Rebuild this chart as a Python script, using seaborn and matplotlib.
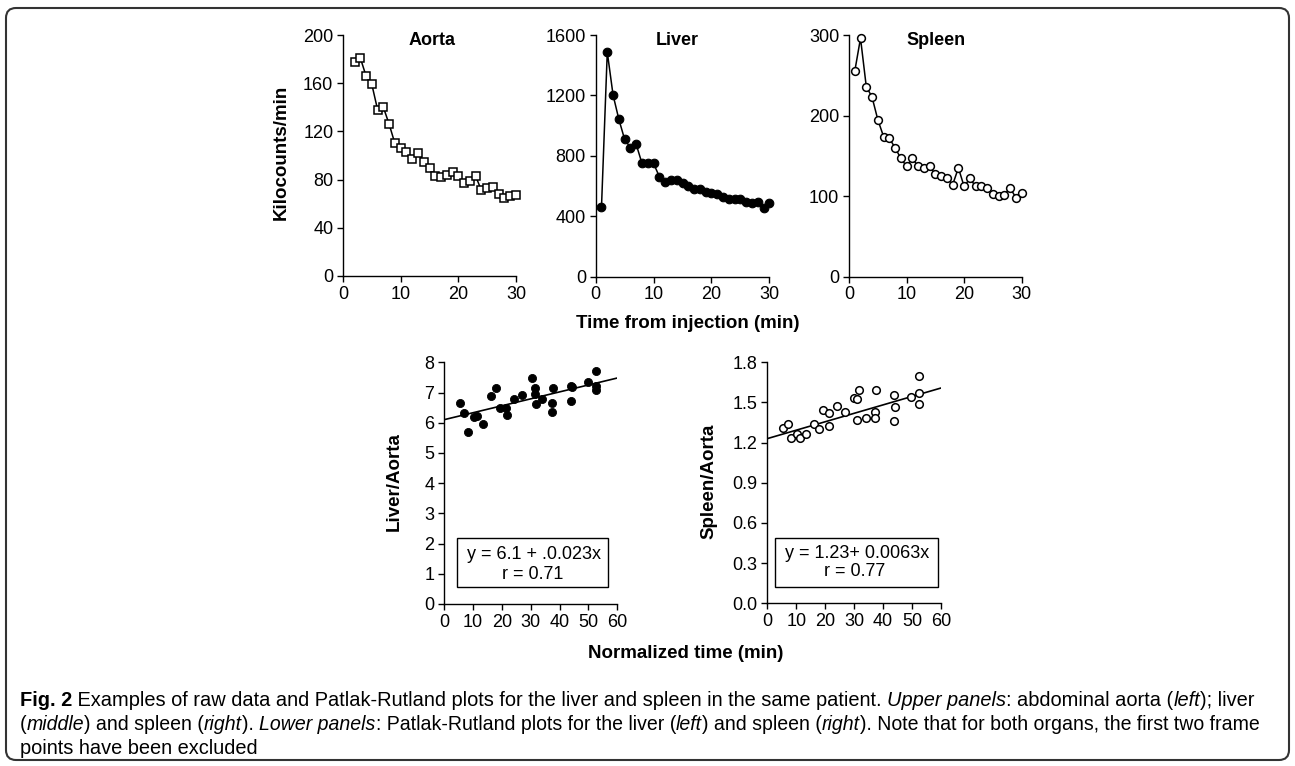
import matplotlib
matplotlib.use("Agg")
import matplotlib.pyplot as plt
import seaborn as sns
import pandas as pd
from matplotlib.patches import FancyBboxPatch, Rectangle
from matplotlib.transforms import IdentityTransform
from matplotlib.font_manager import FontProperties, findfont

# ---------------- data ----------------
aorta_time = list(range(2, 31))
aorta_kcpm = [178, 181, 166, 159, 138, 140, 126, 110, 106, 103, 97, 102, 95, 90, 83,
              82, 84, 86, 83, 77, 79, 83, 71, 73, 74, 68, 65, 66, 67]

liver_time = list(range(1, 31))
liver_kcpm = [460, 1487, 1203, 1042, 909, 854, 876, 750, 750, 750, 662, 625, 640, 640, 618,
              603, 578, 578, 563, 556, 547, 530, 514, 514, 512, 492, 486, 497, 457, 486]

spleen_time = list(range(1, 31))
spleen_kcpm = [255, 296, 236, 223, 195, 174, 172, 160, 147, 137, 147, 137, 135, 137, 127,
               125, 123, 114, 135, 112, 122, 112, 112, 110, 103, 100, 102, 110, 98, 104]

liver_norm_time = [5.5, 7.0, 8.2, 10.3, 11.3, 13.5, 16.3, 17.9, 19.4, 21.4, 21.7, 24.3, 26.9, 30.4,
                   31.5, 31.5, 31.9, 34.0, 37.8, 37.4, 37.4, 44.0, 44.0, 44.4, 49.7, 52.5, 52.5, 52.5]
liver_aorta = [6.66, 6.31, 5.68, 6.20, 6.23, 5.95, 6.87, 7.14, 6.48, 6.48, 6.26, 6.78, 6.92, 7.49,
               7.14, 6.94, 6.61, 6.78, 7.14, 6.66, 6.37, 7.23, 6.73, 7.17, 7.36, 7.71, 7.22, 7.07]

spleen_norm_time = [5.3, 7.0, 8.1, 10.2, 11.3, 13.4, 16.1, 17.8, 19.4, 21.4, 21.4, 24.2, 26.8, 29.9,
                    31.1, 31.7, 31.1, 34.0, 37.2, 37.2, 37.7, 43.6, 44.1, 43.6, 49.6, 52.4, 52.4, 52.4]
spleen_aorta = [1.307, 1.337, 1.232, 1.267, 1.232, 1.267, 1.337, 1.302, 1.444, 1.419, 1.327, 1.476,
                1.431, 1.536, 1.524, 1.593, 1.369, 1.382, 1.431, 1.382, 1.593, 1.556, 1.464, 1.362,
                1.543, 1.698, 1.568, 1.486]

liver_fit = (6.1, 0.023)      # intercept, slope
spleen_fit = (1.23, 0.0063)
fit_x = [0, 60]

liver_eq = ["y = 6.1 + .0.023x", "r = 0.71"]
spleen_eq = ["y = 1.23+ 0.0063x", "r = 0.77"]

aorta_yticks = [0, 40, 80, 120, 160, 200]
liver_yticks = [0, 400, 800, 1200, 1600]
spleen_yticks = [0, 100, 200, 300]
time_xticks = [0, 10, 20, 30]
norm_xticks = [0, 10, 20, 30, 40, 50, 60]
liver_ratio_yticks = [0, 1, 2, 3, 4, 5, 6, 7, 8]
spleen_ratio_yticks = [0.0, 0.3, 0.6, 0.9, 1.2, 1.5, 1.8]

caption_lines = [
    [("Fig. 2", "normal", "bold"),
     (" Examples of raw data and Patlak-Rutland plots for the liver and spleen in the same patient. ", "normal", "normal"),
     ("Upper panels", "italic", "normal"),
     (": abdominal aorta (", "normal", "normal"),
     ("left", "italic", "normal"),
     ("); liver", "normal", "normal")],
    [("(", "normal", "normal"),
     ("middle", "italic", "normal"),
     (") and spleen (", "normal", "normal"),
     ("right", "italic", "normal"),
     ("). ", "normal", "normal"),
     ("Lower panels", "italic", "normal"),
     (": Patlak-Rutland plots for the liver (", "normal", "normal"),
     ("left", "italic", "normal"),
     (") and spleen (", "normal", "normal"),
     ("right", "italic", "normal"),
     ("). Note that for both organs, the first two frame", "normal", "normal")],
    [("points have been excluded", "normal", "normal")],
]

# ---------------- style ----------------
sns.set_theme(style="ticks")
plt.rcParams["font.family"] = ["Liberation Sans", "DejaVu Sans"]
plt.rcParams["text.color"] = "black"
plt.rcParams["axes.labelcolor"] = "black"
plt.rcParams["xtick.color"] = "black"
plt.rcParams["ytick.color"] = "black"
plt.rcParams["axes.edgecolor"] = "black"

W, H = 1295, 766
fig = plt.figure(figsize=(W / 100, H / 100), dpi=100)
fig.patch.set_facecolor("white")


def px_axes(l, t, r, b):
    return fig.add_axes([l / W, 1 - b / H, (r - l) / W, (b - t) / H])


def style(ax, xticks, yticks, ylim, xlim, fmt=None):
    ax.set_xlim(xlim)
    ax.set_ylim(ylim)
    ax.set_xticks(xticks)
    ax.set_yticks(yticks)
    if fmt:
        ax.set_yticklabels([fmt.format(v) for v in yticks])
    sns.despine(ax=ax)
    for s in ("left", "bottom"):
        ax.spines[s].set_linewidth(1.0)
        ax.spines[s].set_color("black")
    ax.tick_params(direction="out", length=4, width=1.0, labelsize=13, pad=3, colors="black")
    ax.set_xlabel("")
    ax.set_ylabel("")
    ax.set_facecolor("none")


TS = 13
# ---- top panels ----
ax1 = px_axes(343, 35, 516, 276)
sns.lineplot(x=aorta_time, y=aorta_kcpm, ax=ax1, color="black", linewidth=1.1,
             marker="s", markersize=6, markerfacecolor="white", markeredgecolor="black",
             markeredgewidth=1.1, clip_on=False)
style(ax1, time_xticks, aorta_yticks, (0, 200), (0, 30))
ax1.text(0.514, 0.978, "Aorta", transform=ax1.transAxes, ha="center", va="center",
         fontsize=TS, fontweight="bold")

ax2 = px_axes(595.7, 35, 769.3, 276.7)
sns.lineplot(x=liver_time, y=liver_kcpm, ax=ax2, color="black", linewidth=1.1,
             marker="o", markersize=6.2, markerfacecolor="black", markeredgecolor="black",
             markeredgewidth=0.8, clip_on=False)
style(ax2, time_xticks, liver_yticks, (0, 1600), (0, 30))
ax2.text(0.467, 0.977, "Liver", transform=ax2.transAxes, ha="center", va="center",
         fontsize=TS, fontweight="bold")

ax3 = px_axes(849, 35, 1021.7, 276.7)
sns.lineplot(x=spleen_time, y=spleen_kcpm, ax=ax3, color="black", linewidth=1.1,
             marker="o", markersize=5.6, markerfacecolor="white", markeredgecolor="black",
             markeredgewidth=1.1, clip_on=False)
style(ax3, time_xticks, spleen_yticks, (0, 300), (0, 30))
ax3.text(0.506, 0.977, "Spleen", transform=ax3.transAxes, ha="center", va="center",
         fontsize=TS, fontweight="bold")

# ---- bottom panels ----
ax4 = px_axes(444, 362.3, 617.3, 604)
fit_df = pd.DataFrame({"x": fit_x,
                       "liver": [liver_fit[0] + liver_fit[1] * v for v in fit_x],
                       "spleen": [spleen_fit[0] + spleen_fit[1] * v for v in fit_x]})
sns.lineplot(data=fit_df, x="x", y="liver", ax=ax4, color="black", linewidth=1.2, zorder=2)
sns.scatterplot(x=liver_norm_time, y=liver_aorta, ax=ax4, color="black", edgecolor="black",
                s=34, linewidth=0.6, zorder=3, clip_on=False)
style(ax4, norm_xticks, liver_ratio_yticks, (0, 8), (0, 60))

ax5 = px_axes(767.3, 362.3, 941, 603.3)
sns.lineplot(data=fit_df, x="x", y="spleen", ax=ax5, color="black", linewidth=1.2, zorder=2)
sns.scatterplot(x=spleen_norm_time, y=spleen_aorta, ax=ax5, color="white", edgecolor="black",
                s=30, linewidth=1.1, zorder=3, clip_on=False)
style(ax5, norm_xticks, spleen_ratio_yticks, (0, 1.8), (0, 60), fmt="{:.1f}")


def eq_box(ax, box, lines, xs, ys):
    x0, y0, x1, y1 = box
    ax.add_patch(Rectangle((x0, y0), x1 - x0, y1 - y0, transform=ax.transAxes,
                           fill=True, facecolor="white", edgecolor="black", linewidth=1.0,
                           zorder=4, clip_on=False))
    for txt, xx, yy in zip(lines, xs, ys):
        ax.text(xx, yy, txt, transform=ax.transAxes, ha="center", va="center",
                fontsize=TS, zorder=5)


eq_box(ax4, (0.073, 0.0716, 0.948, 0.272), liver_eq, (0.519, 0.51), (0.203, 0.12))
eq_box(ax5, (0.044, 0.069, 0.981, 0.27), spleen_eq, (0.516, 0.50), (0.207, 0.131))

# ---- axis labels ----
LS = 13.5
fig.text(281.7 / W, 1 - 152 / H, "Kilocounts/min", rotation=90, ha="center", va="center",
         fontsize=LS, fontweight="bold")
fig.text(394 / W, 1 - 481.7 / H, "Liver/Aorta", rotation=90, ha="center", va="center",
         fontsize=LS, fontweight="bold")
fig.text(709 / W, 1 - 481.7 / H, "Spleen/Aorta", rotation=90, ha="center", va="center",
         fontsize=LS, fontweight="bold")
fig.text(687.5 / W, 1 - 324 / H, "Time from injection (min)", ha="center", va="center",
         fontsize=LS, fontweight="bold")
fig.text(686 / W, 1 - 653 / H, "Normalized time (min)", ha="center", va="center",
         fontsize=LS, fontweight="bold")

# ---- caption ----
try:
    findfont(FontProperties(family="Liberation Sans Narrow"), fallback_to_default=False)
    cap_family = ["Liberation Sans Narrow", "DejaVu Sans"]
except Exception:
    cap_family = ["Liberation Sans", "DejaVu Sans"]

renderer = fig.canvas.get_renderer()


def seg_width(txt, size, style_, weight):
    prop = FontProperties(family=cap_family, size=size, style=style_, weight=weight)
    a = renderer.get_text_width_height_descent("X" + txt + "X", prop, False)[0]
    b = renderer.get_text_width_height_descent("XX", prop, False)[0]
    return a - b


base = 10.0
targets = [1236.0, 1242.0]
sizes = []
for line, tw in zip(caption_lines[:2], targets):
    wl = sum(seg_width(t, base, s, w) for t, s, w in line)
    sizes.append(base * tw / wl)
sizes.append(sizes[0])

cap_x0 = 20
cap_ys = [700, 725, 749]
for line, yy, cs in zip(caption_lines, cap_ys, sizes):
    x = cap_x0
    for t, s, w in line:
        fig.text(x / W, 1 - yy / H, t, ha="left", va="center", fontsize=cs,
                 fontstyle=s, fontweight=w, family=cap_family)
        x += seg_width(t, cs, s, w)

# ---- border ----
border = FancyBboxPatch((6, H - 760), 1283, 752,
                        boxstyle="round,pad=0,rounding_size=10",
                        transform=IdentityTransform(), fill=False,
                        edgecolor="#333333", linewidth=1.5)
fig.add_artist(border)

fig.savefig("out.png", dpi=100, facecolor="white")
